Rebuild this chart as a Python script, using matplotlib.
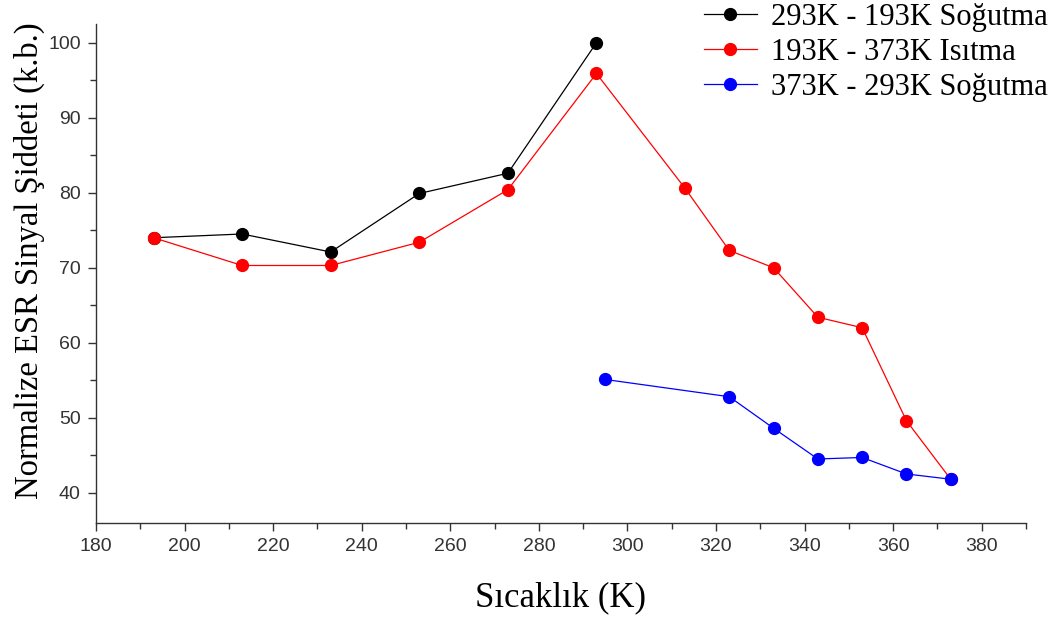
import matplotlib
matplotlib.use("Agg")
import matplotlib.pyplot as plt
from matplotlib.ticker import MultipleLocator

# Verilerin okunmuş değerleri
x_cool1 = [193, 213, 233, 253, 273, 293]
y_cool1 = [74.0, 74.5, 72.1, 79.9, 82.6, 100.0]

x_heat = [193, 213, 233, 253, 273, 293, 313, 323, 333, 343, 353, 363, 373]
y_heat = [74.0, 70.3, 70.3, 73.4, 80.4, 95.9, 80.6, 72.3, 70.0, 63.4, 62.0, 49.6, 41.8]

x_cool2 = [295, 323, 333, 343, 353, 363, 373]
y_cool2 = [55.1, 52.8, 48.6, 44.5, 44.7, 42.5, 41.8]

labels = ["293K - 193K Soğutma", "193K - 373K Isıtma", "373K - 293K Soğutma"]
colors = ["black", "#ff0000", "#0000ff"]

fig = plt.figure(figsize=(10.63, 6.17), dpi=100)
ax = fig.add_axes([0.0903, 0.1528, 0.8749, 0.8083])

series = [(x_cool1, y_cool1), (x_heat, y_heat), (x_cool2, y_cool2)]
for (x, y), lab, c in zip(series, labels, colors):
    ax.plot(x, y, color=c, linewidth=0.9, marker="o", markersize=8.5,
            markeredgecolor=c, markerfacecolor=c, label=lab, clip_on=False)

ax.set_xlim(180, 390)
ax.set_ylim(36, 102.5)
ax.xaxis.set_major_locator(MultipleLocator(20))
ax.xaxis.set_minor_locator(MultipleLocator(10))
ax.yaxis.set_major_locator(MultipleLocator(10))
ax.yaxis.set_minor_locator(MultipleLocator(5))
ax.set_yticks([40, 50, 60, 70, 80, 90, 100])

for s in ["top", "right"]:
    ax.spines[s].set_visible(False)
for s in ["left", "bottom"]:
    ax.spines[s].set_color("#333333")
    ax.spines[s].set_linewidth(1.0)

ax.tick_params(which="both", direction="out", color="#333333", width=1.0)
ax.tick_params(which="major", length=6, labelsize=14, labelcolor="#333333", pad=5)
ax.tick_params(which="minor", length=4)
for lbl in ax.get_xticklabels() + ax.get_yticklabels():
    lbl.set_family(["Liberation Sans", "DejaVu Sans"])

ax.set_xlabel("Sıcaklık (K)", family="Liberation Serif", fontsize=25, labelpad=19)
ax.set_ylabel("Normalize ESR Sinyal Şiddeti (k.b.)", family="Liberation Serif",
              fontsize=23.5)
ax.yaxis.set_label_coords(-0.055, 0.525)

leg = fig.legend(loc="upper right", bbox_to_anchor=(1.0, 1.02), frameon=False,
                 prop={"family": "Liberation Serif", "size": 22},
                 handlelength=1.75, handletextpad=0.45, labelspacing=0.2,
                 borderaxespad=0.1)

fig.savefig("out.png", dpi=100)
